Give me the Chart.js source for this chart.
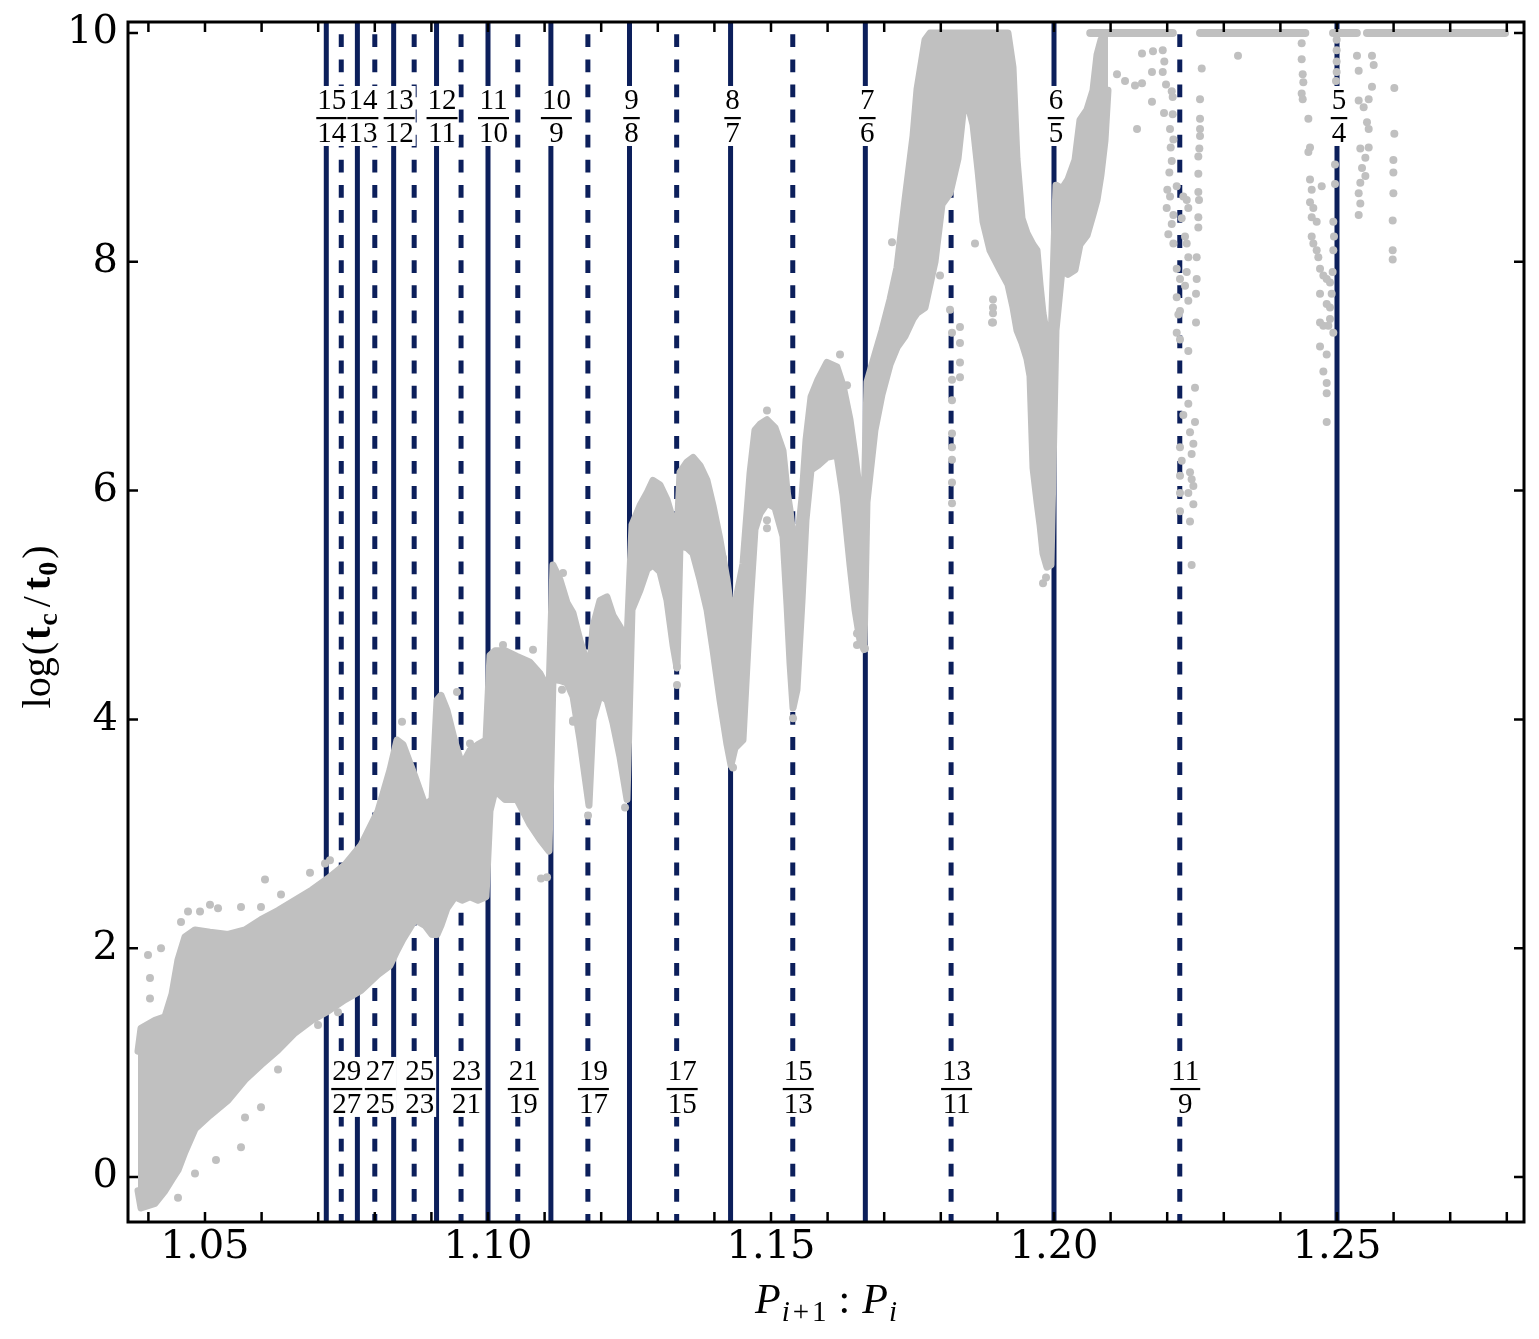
<!DOCTYPE html>
<html><head><meta charset="utf-8">
<script src="https://cdn.jsdelivr.net/npm/chart.js@4.4.1/dist/chart.umd.min.js"></script>
<style>html,body{margin:0;padding:0;background:#fff;}canvas{display:block;}</style>
</head><body>
<canvas id="c" width="1539" height="1339"></canvas>
<script>
// ---------- axis ranges & ticks ----------
const X_MIN = 1.036396, X_MAX = 1.283039, Y_MIN = -0.393, Y_MAX = 10.096;
const xMajorTicks = [1.05, 1.10, 1.15, 1.20, 1.25];
const xMinorTicks = [1.04,1.06,1.07,1.08,1.09,1.11,1.12,1.13,1.14,1.16,1.17,1.18,1.19,1.21,1.22,1.23,1.24,1.26,1.27,1.28];
const yMajorTicks = [0, 2, 4, 6, 8, 10];

// ---------- resonances ----------
const firstOrder = [[15,14],[14,13],[13,12],[12,11],[11,10],[10,9],[9,8],[8,7],[7,6],[6,5],[5,4]];
const secondOrder = [[29,27],[27,25],[25,23],[23,21],[21,19],[19,17],[17,15],[15,13],[13,11],[11,9]];

// ---------- dense cloud envelope ----------
const bandX = [
1.03816,1.03869,1.04117,1.04293,1.04417,1.04523,1.04647,1.04823,1.05088,1.05406,
1.05707,1.05989,1.06290,1.06590,1.06890,1.07173,1.07473,1.07756,1.08057,1.08269,
1.08392,1.08498,1.08710,1.08887,1.09011,1.09099,1.09170,1.09276,1.09417,1.09541,
1.09682,1.09823,1.09965,1.10035,1.10124,1.10300,1.10512,1.10742,1.10919,1.11078,
1.11148,1.11272,1.11396,1.11502,1.11625,1.11714,1.11784,1.11855,1.11979,1.12102,
1.12208,1.12332,1.12456,1.12544,1.12686,1.12809,1.12915,1.13039,1.13163,1.13269,
1.13339,1.13392,1.13516,1.13622,1.13746,1.13869,1.13975,1.14099,1.14223,1.14293,
1.14364,1.14505,1.14629,1.14717,1.14806,1.14929,1.15071,1.15212,1.15283,1.15336,
1.15389,1.15459,1.15548,1.15618,1.15707,1.15830,1.15989,1.16166,1.16272,1.16396,
1.16484,1.16572,1.16643,1.16696,1.16837,1.16961,1.17102,1.17226,1.17367,1.17509,
1.17580,1.17721,1.17809,1.17898,1.18021,1.18163,1.18304,1.18392,1.18481,1.18569,
1.18657,1.18746,1.18869,1.19046,1.19187,1.19276,1.19346,1.19435,1.19523,1.19576,
1.19629,1.19700,1.19753,1.19806,1.19876,1.19947,1.20035,1.20141,1.20247,1.20371,
1.20459,1.20583,1.20689,1.20760,1.20830,1.20901,1.20954];
const bandHigh = [
1.10,1.30,1.37,1.40,1.60,1.90,2.10,2.16,2.14,2.12,
2.16,2.25,2.33,2.42,2.51,2.61,2.73,2.90,3.20,3.56,
3.82,3.78,3.50,3.25,3.30,4.17,4.21,4.08,3.80,3.60,
3.73,3.78,3.82,4.56,4.60,4.60,4.55,4.50,4.40,4.25,
5.35,5.22,5.02,4.93,4.69,4.55,4.34,4.81,5.04,5.07,
4.91,4.81,4.69,5.70,5.87,5.98,6.09,6.05,5.92,5.74,
5.60,6.16,6.25,6.29,6.22,6.09,5.87,5.57,5.22,4.96,
5.00,5.36,6.15,6.53,6.58,6.62,6.55,6.35,6.00,5.83,
5.60,5.52,5.94,6.44,6.82,6.97,7.12,7.08,6.92,6.62,
6.31,5.96,5.83,6.95,7.19,7.40,7.67,7.95,8.54,9.10,
9.51,9.94,10,10,10,10,10,10,10,10,
10,10,10,10,10,9.70,8.90,8.38,8.25,8.20,
8.15,8.10,7.80,7.55,7.35,7.29,8.67,8.64,8.72,8.89,
9.24,9.33,9.50,9.81,9.94,10,10];
const bandLow = [
-0.12,-0.27,-0.23,-0.12,-0.02,0.06,0.22,0.42,0.54,0.67,
0.85,0.98,1.11,1.26,1.37,1.45,1.55,1.63,1.77,1.85,
1.98,2.08,2.25,2.20,2.12,2.12,2.20,2.35,2.45,2.42,
2.45,2.42,2.45,3.20,3.38,3.30,3.30,3.08,2.95,2.85,
4.35,4.34,4.32,4.20,3.82,3.50,3.25,4.00,4.21,4.17,
3.97,3.67,3.30,4.96,5.13,5.31,5.35,5.29,5.04,4.65,
4.45,5.52,5.50,5.45,5.22,4.96,4.61,4.17,3.78,3.60,
3.75,3.82,4.98,5.66,5.80,5.89,5.85,5.60,5.00,4.49,
4.10,4.26,5.04,5.74,6.18,6.22,6.29,6.31,5.96,5.35,
4.96,4.69,4.61,5.90,6.53,6.84,7.10,7.25,7.35,7.50,
7.55,7.60,7.80,8.00,8.50,8.60,8.90,9.30,9.37,9.20,
8.80,8.35,8.10,7.93,7.80,7.60,7.40,7.29,7.15,7.00,
6.20,5.90,5.70,5.45,5.33,5.35,7.40,7.93,7.89,7.93,
8.15,8.23,8.41,8.54,8.76,9.06,9.50];

// ---------- capped runs at log(tc/t0)=10 ----------
const topRowStart = [1.2064, 1.2258, 1.2493, 1.2553];
const topRowEnd   = [1.2210, 1.2444, 1.2535, 1.2797];
const topRowValue = 10;

// ---------- individual sparse points ----------
const leftOutliers = [[1.03993,1.94],[1.04028,1.74],[1.04028,1.56],[1.04223,2.00],[1.04576,2.23],[1.04700,2.32],[1.04912,2.32],[1.05088,2.38],[1.05230,2.35],[1.05636,2.36],[1.05989,2.36],[1.06343,2.47],[1.06855,2.66],[1.06060,2.60],[1.07120,2.74],[1.04823,0.03],[1.04523,-0.18],[1.05636,0.26],[1.05194,0.15],[1.05989,0.61],[1.05707,0.52],[1.06290,0.94],[1.06997,1.33],[1.07350,1.44]];
const midOutliers = [[1.09682,3.79],[1.10936,2.61],[1.12421,3.23],[1.11767,3.16],[1.14329,3.58],[1.15389,4.01],[1.16661,4.62],[1.19806,5.19],[1.19859,5.24],[1.19806,5.50]];
const edgeOutliers = [[1.11325,5.28],[1.11502,3.99],[1.14929,5.74],[1.14929,5.67],[1.13339,4.46],[1.13339,4.30],[1.14152,5.41],[1.11307,4.26],[1.10265,4.65],[1.10795,4.61],[1.09452,4.24],[1.08481,3.98],[1.11043,2.62],[1.09541,2.48],[1.07208,2.77],[1.11502,3.98],[1.16219,7.19],[1.16343,6.92],[1.16519,4.75],[1.16519,4.65],[1.14929,6.70],[1.16537,4.76],[1.18922,7.67],[1.18922,7.55]];
const column1311 = [[1.17138,8.17],[1.17986,7.88],[1.18163,7.58],[1.18198,7.38],[1.18339,7.43],[1.18339,7.29],[1.18339,7.12],[1.18339,6.99],[1.18198,6.97],[1.18198,6.79],[1.18198,6.50],[1.18198,6.38],[1.18198,6.27],[1.18198,6.07],[1.18198,5.89],[1.18922,7.60],[1.18922,7.47],[1.18604,8.16],[1.18905,7.47]];
const sparse121 = [[1.21113,9.64],[1.21255,9.58],[1.21431,9.54],[1.21555,9.56],[1.21467,9.16],[1.21731,9.40],[1.21731,9.66],[1.21749,9.84],[1.21555,9.82],[1.23251,9.80]];
const col119Left = [[1.21921,9.85],[1.21949,9.75],[1.21921,9.66],[1.21979,9.55],[1.22080,9.49],[1.22097,9.44],[1.21944,9.30],[1.22097,9.29],[1.22050,9.16],[1.22109,9.07],[1.22062,9.00],[1.22080,8.88],[1.22038,8.78],[1.22168,8.66],[1.22002,8.63],[1.22050,8.57],[1.21991,8.47],[1.22109,8.41],[1.22080,8.33],[1.22020,8.24],[1.22109,8.16],[1.22168,7.94],[1.22226,7.85],[1.22168,7.69],[1.22197,7.54],[1.22168,7.38],[1.22226,7.32],[1.22285,6.66],[1.22226,6.38],[1.22256,6.26],[1.22226,6.13],[1.22226,5.98],[1.22226,5.82]];
const col119Right = [[1.22285,8.57],[1.22345,8.54],[1.22373,8.47],[1.22256,8.38],[1.22315,8.22],[1.22345,8.16],[1.22373,8.04],[1.22345,7.91],[1.22315,7.79],[1.22373,7.66],[1.22226,7.57],[1.22373,7.22],[1.22373,6.76],[1.22403,6.51],[1.22462,6.41],[1.22432,6.32],[1.22403,6.16],[1.22432,6.10],[1.22462,6.04],[1.22373,5.98],[1.22462,5.88],[1.22403,5.73],[1.22432,5.35]];
const col1225 = [[1.22610,9.69],[1.22580,9.42],[1.22580,9.25],[1.22580,9.16],[1.22580,9.10],[1.22568,8.99],[1.22550,8.92],[1.22550,8.77],[1.22550,8.61],[1.22562,8.54],[1.22550,8.39],[1.22550,8.30],[1.22521,8.04],[1.22521,7.85],[1.22509,7.72],[1.22509,7.47],[1.22491,6.90],[1.22491,6.60]];
const col54Left = [[1.24376,9.91],[1.24376,9.77],[1.24394,9.64],[1.24405,9.57],[1.24376,9.47],[1.24394,9.42],[1.24494,9.25],[1.24523,9.00],[1.24494,8.96],[1.24523,8.72],[1.24553,8.63],[1.24523,8.52],[1.24582,8.47],[1.24553,8.39],[1.24641,8.35],[1.24553,8.22],[1.24582,8.16],[1.24641,8.10],[1.24670,8.04],[1.24700,7.94],[1.24759,7.88],[1.24818,7.85],[1.24876,7.82],[1.24700,7.72],[1.24818,7.63],[1.24876,7.60],[1.24700,7.47],[1.24759,7.44],[1.24847,7.44],[1.24700,7.26],[1.24818,7.19],[1.24759,7.04],[1.24818,6.94],[1.24818,6.85],[1.24818,6.60],[1.24730,8.66]];
const col54On = [[1.24994,9.94],[1.24994,9.85],[1.24994,9.75],[1.24994,9.66],[1.24982,9.58],[1.24965,8.85],[1.24965,8.68],[1.24935,8.35],[1.24947,8.22],[1.24935,8.10],[1.24923,7.91],[1.24906,7.72],[1.24876,7.50],[1.24935,7.38]];
const col54Right = [[1.25353,9.80],[1.25618,9.80],[1.25383,9.67],[1.25648,9.72],[1.25618,9.53],[1.25383,9.41],[1.25560,9.42],[1.25471,9.35],[1.25530,9.22],[1.25560,9.16],[1.25412,8.99],[1.25560,9.00],[1.25501,8.91],[1.25442,8.82],[1.25501,8.75],[1.25412,8.69],[1.25383,8.60],[1.25412,8.51],[1.25383,8.41]];
const col126 = [[1.26013,9.52],[1.26013,9.12],[1.25996,8.89],[1.25996,8.78],[1.25996,8.60],[1.25984,8.36],[1.25984,8.10],[1.25984,8.02]];

// ---------- styles ----------
const GRAY = '#c0c0c0';
const NAVY = '#0c1f5b';
const LABEL_FONT = '29px "Liberation Serif"';
const TOP_LABEL_Y = 9.257, BOTTOM_LABEL_Y = 0.77;

// ---------- datasets ----------
const datasets = [];
firstOrder.forEach(([p,q]) => datasets.push({
  type:'line', data:[{x:p/q,y:Y_MAX},{x:p/q,y:Y_MIN}], borderColor:NAVY, borderWidth:5,
  pointRadius:0, fill:false, order:10, borderCapStyle:'butt'
}));
secondOrder.forEach(([p,q]) => datasets.push({
  type:'line', data:[{x:p/q,y:Y_MAX},{x:p/q,y:Y_MIN}], borderColor:NAVY, borderWidth:5,
  borderDash:[12.8,12.3], borderDashOffset:12.8, pointRadius:0, fill:false, order:10
}));
datasets.push({
  type:'line', data: bandX.map((x,i)=>({x, y:bandLow[i]})), borderColor:GRAY, borderWidth:7,
  borderJoinStyle:'round', borderCapStyle:'round', pointRadius:0, fill:false, tension:0, order:5
});
datasets.push({
  type:'line', data: bandX.map((x,i)=>({x, y:bandHigh[i]})), borderColor:GRAY, backgroundColor:GRAY,
  borderWidth:7, borderJoinStyle:'round', borderCapStyle:'round', pointRadius:0, fill:'-1', tension:0, order:4
});
const allPts = [].concat(leftOutliers, midOutliers, edgeOutliers, column1311, sparse121, col119Left, col119Right, col1225, col54Left, col54On, col54Right, col126);
datasets.push({
  type:'scatter', data: allPts.map(([x,y])=>({x,y})), pointRadius:4, pointBackgroundColor:GRAY,
  pointBorderColor:GRAY, pointBorderWidth:0, showLine:false, order:2
});
const topRowData = [];
topRowStart.forEach((s,i)=>{
  topRowData.push({x:s,y:topRowValue},{x:topRowEnd[i],y:topRowValue},{x:topRowEnd[i]+0.0001,y:null});
});
datasets.push({
  type:'line', data: topRowData, borderColor:GRAY, borderWidth:8, borderCapStyle:'round',
  pointRadius:0, fill:false, spanGaps:false, order:1
});

// ---------- plugins ----------
const framePlugin = {
  id:'frame',
  afterDraw(chart){
    const {ctx, chartArea:ca, scales:{x,y}} = chart;
    ctx.save();
    ctx.strokeStyle = '#000';
    ctx.lineWidth = 2.5;
    const allX = xMajorTicks.concat(xMinorTicks);
    ctx.beginPath();
    allX.forEach(v=>{
      const px = x.getPixelForValue(v);
      ctx.moveTo(px, ca.bottom); ctx.lineTo(px, ca.bottom-10);
      ctx.moveTo(px, ca.top); ctx.lineTo(px, ca.top+10);
    });
    yMajorTicks.forEach(v=>{
      const py = y.getPixelForValue(v);
      ctx.moveTo(ca.left, py); ctx.lineTo(ca.left+10, py);
      ctx.moveTo(ca.right, py); ctx.lineTo(ca.right-10, py);
    });
    ctx.stroke();
    ctx.lineWidth = 3;
    ctx.strokeRect(ca.left, ca.top, ca.right-ca.left, ca.bottom-ca.top);
    ctx.restore();
  }
};

function drawFraction(ctx, xScale, yScale, p, q, yVal){
  ctx.font = LABEL_FONT;
  const ns = String(p), ds = String(q);
  const w = Math.max(ctx.measureText(ns).width, ctx.measureText(ds).width);
  const cx = xScale.getPixelForValue(p/q) + (w > 20 ? 5.5 : 2);
  const bar = yScale.getPixelForValue(yVal);
  ctx.fillStyle = '#fff';
  ctx.fillRect(cx - w/2 - 2, bar - 32, w + 4, 60);
  ctx.fillStyle = '#000';
  ctx.textAlign = 'center';
  ctx.textBaseline = 'alphabetic';
  ctx.fillText(ns, cx, bar - 9);
  ctx.fillText(ds, cx, bar + 24);
  ctx.fillRect(cx - w/2 - 1, bar - 1, w + 2, 2.2);
}
const labelPlugin = {
  id:'resLabels',
  afterDatasetsDraw(chart){
    const {ctx, scales:{x,y}} = chart;
    ctx.save();
    firstOrder.forEach(([p,q])=>drawFraction(ctx, x, y, p, q, TOP_LABEL_Y));
    secondOrder.forEach(([p,q])=>drawFraction(ctx, x, y, p, q, BOTTOM_LABEL_Y));
    ctx.restore();
  }
};

function piecesWidth(ctx, pieces){ let w=0; pieces.forEach(([t,f,dy,g])=>{ctx.font=f; w+=g+ctx.measureText(t).width;}); return w; }
function drawPieces(ctx, pieces, x0, base){
  let x = x0;
  pieces.forEach(([t,f,dy,g])=>{ x+=g; ctx.font=f; ctx.fillText(t, x, base+dy); x+=ctx.measureText(t).width; });
}
const titlePlugin = {
  id:'titles',
  afterDraw(chart){
    const {ctx, chartArea:ca} = chart;
    ctx.save();
    ctx.fillStyle = '#000'; ctx.textAlign='left'; ctx.textBaseline='alphabetic';
    const xt = [
      ['P','italic 42px "Liberation Serif"',0,0],
      ['i','italic 29px "Liberation Serif"',8,1],
      ['+','29px "Liberation Serif"',8,3],
      ['1','29px "Liberation Serif"',8,3],
      [':','42px "Liberation Serif"',0,12],
      ['P','italic 42px "Liberation Serif"',0,12],
      ['i','italic 29px "Liberation Serif"',8,1]
    ];
    const wx = piecesWidth(ctx, xt);
    drawPieces(ctx, xt, (ca.left+ca.right)/2 - wx/2, 1313);
    const yt = [
      ['log','40px "Liberation Serif"',0,0],
      ['(','40px "Liberation Serif"',0,2],
      ['t','bold 40px "Liberation Serif"',0,2],
      ['c','bold 28px "Liberation Serif"',7,1],
      ['/','40px "Liberation Serif"',0,6],
      ['t','bold 40px "Liberation Serif"',0,6],
      ['0','bold 28px "Liberation Serif"',7,1],
      [')','40px "Liberation Serif"',0,3]
    ];
    const wy = piecesWidth(ctx, yt);
    ctx.translate(50, 627);
    ctx.rotate(-Math.PI/2);
    drawPieces(ctx, yt, -wy/2, 0);
    ctx.restore();
  }
};

new Chart(document.getElementById('c').getContext('2d'), {
  type:'line',
  data:{ datasets },
  options:{
    responsive:false, animation:false, devicePixelRatio:1,
    layout:{ padding:{ left:0, right:15, top:22, bottom:0 } },
    plugins:{ legend:{display:false}, tooltip:{enabled:false}, title:{display:false} },
    elements:{ line:{ tension:0 } },
    scales:{
      x:{
        type:'linear', min:X_MIN, max:X_MAX,
        grid:{display:false, drawTicks:false}, border:{display:false},
        ticks:{ font:{family:'DejaVu Serif', size:40}, color:'#000', padding:2, maxRotation:0, autoSkip:false,
          callback:(v)=>Number(v).toFixed(2) },
        afterBuildTicks:(s)=>{ s.ticks = xMajorTicks.map(v=>({value:v})); },
        afterFit:(s)=>{ s.height = 117; s.paddingLeft = 0; s.paddingRight = 0; }
      },
      y:{
        type:'linear', min:Y_MIN, max:Y_MAX,
        grid:{display:false, drawTicks:false}, border:{display:false},
        ticks:{ font:{family:'DejaVu Serif', size:40}, color:'#000', padding:10, autoSkip:false,
          callback:(v)=>String(v) },
        afterBuildTicks:(s)=>{ s.ticks = yMajorTicks.map(v=>({value:v})); },
        afterFit:(s)=>{ s.width = 128; s.paddingTop = 0; s.paddingBottom = 0; }
      }
    }
  },
  plugins:[labelPlugin, framePlugin, titlePlugin]
});
</script>
</body></html>
